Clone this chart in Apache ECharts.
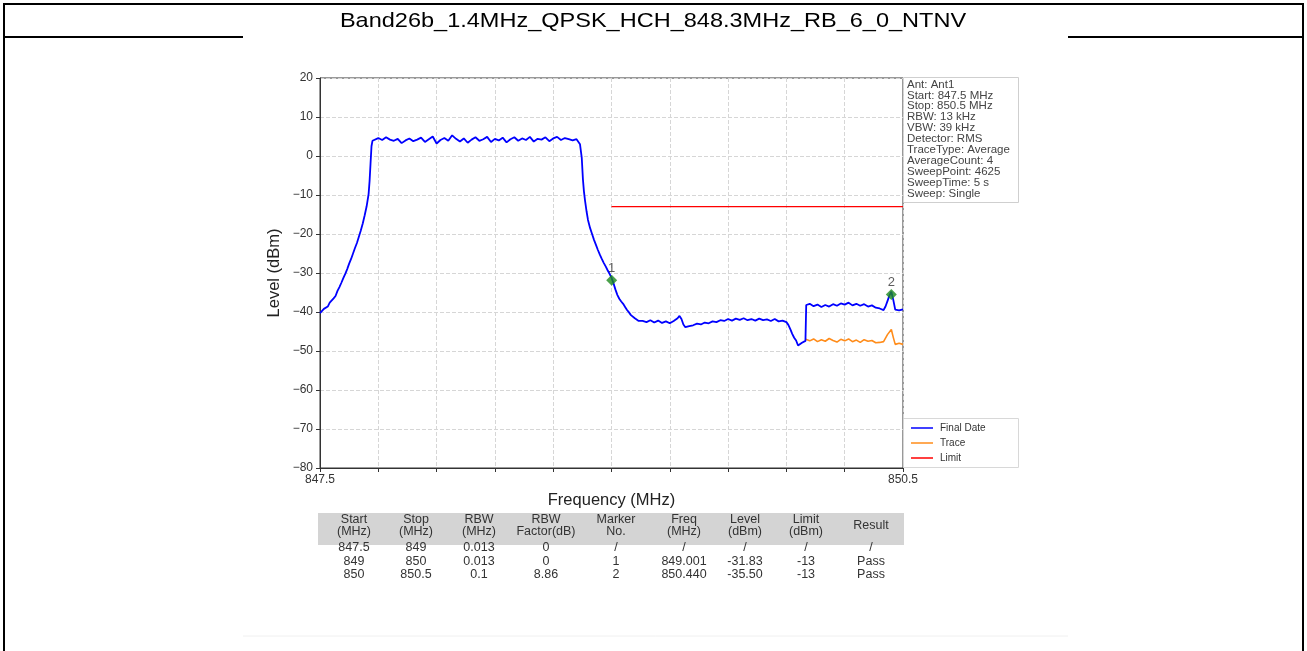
<!DOCTYPE html>
<html>
<head>
<meta charset="utf-8">
<title>Band26b spectrum</title>
<script src="https://cdn.jsdelivr.net/npm/echarts@6/dist/echarts.min.js"></script>
<style>
  body { margin: 0; background: #fff; }
  #main { width: 1307px; height: 651px; }
</style>
</head>
<body>
<div id="main"></div>
<script>
var chartTitle = 'Band26b_1.4MHz_QPSK_HCH_848.3MHz_RB_6_0_NTNV';

// Final Date trace [MHz, dBm]
var finalDate = [
  [847.5,-40.3],[847.51,-39.8],[847.52,-39.2],[847.53,-38.9],[847.54,-38.6],[847.55,-37.6],
  [847.56,-37.3],[847.57,-36.5],[847.58,-35.9],[847.59,-34.6],[847.60,-33.6],[847.61,-32.5],
  [847.62,-31.3],[847.63,-30.2],[847.64,-29.0],[847.65,-27.6],[847.66,-26.4],[847.67,-25.0],
  [847.68,-23.6],[847.69,-22.3],[847.70,-20.7],[847.71,-19.1],[847.72,-17.3],[847.73,-15.2],
  [847.74,-12.9],[847.75,-9.8],[847.755,-6.5],[847.76,-2.0],[847.765,2.5],[847.77,3.9],
  [847.78,4.3],[847.80,4.6],[847.82,4.1],[847.84,4.8],[847.86,4.2],[847.88,3.9],[847.90,4.4],
  [847.92,3.3],[847.94,4.0],[847.96,4.5],[847.98,3.8],[848.00,4.2],[848.02,4.7],[848.04,3.6],
  [848.06,4.3],[848.08,5.0],[848.10,3.2],[848.12,4.1],[848.14,4.6],[848.16,3.9],[848.18,5.3],
  [848.20,4.4],[848.22,3.7],[848.24,4.5],[848.26,3.4],[848.28,4.2],[848.30,4.8],[848.32,3.9],
  [848.34,4.3],[848.36,4.9],[848.38,3.6],[848.40,4.4],[848.42,4.0],[848.44,4.7],[848.46,3.5],
  [848.48,4.3],[848.50,4.8],[848.52,3.9],[848.54,4.5],[848.56,4.1],[848.58,4.9],[848.60,3.7],
  [848.62,4.4],[848.64,4.2],[848.66,4.8],[848.68,3.8],[848.70,4.5],[848.72,4.9],[848.74,4.1],
  [848.76,4.6],[848.78,4.3],[848.80,4.0],[848.82,4.3],[848.83,3.6],[848.838,3.0],[848.847,-0.5],
  [848.853,-6.0],[848.858,-9.0],[848.864,-11.5],[848.872,-14.3],[848.879,-16.4],[848.89,-18.5],
  [848.90,-20.0],[848.91,-21.5],[848.92,-22.8],[848.93,-24.1],[848.94,-25.3],[848.95,-26.4],
  [848.96,-27.4],[848.97,-28.3],[848.98,-29.3],[848.99,-30.2],[849.00,-31.2],[849.01,-32.6],
  [849.02,-34.2],[849.03,-35.6],[849.04,-36.6],[849.05,-37.3],[849.06,-37.9],[849.07,-38.7],
  [849.08,-39.5],[849.09,-40.1],[849.10,-40.8],[849.11,-41.2],[849.12,-41.6],[849.13,-41.9],
  [849.14,-42.3],[849.15,-42.0],[849.16,-42.3],[849.18,-42.6],[849.20,-42.1],[849.22,-42.7],
  [849.24,-42.2],[849.26,-42.8],[849.28,-42.4],[849.30,-42.9],[849.32,-42.3],[849.34,-41.6],
  [849.35,-41.0],[849.36,-41.8],[849.37,-43.2],[849.38,-43.9],[849.39,-44.1],[849.40,-43.6],
  [849.42,-43.4],[849.44,-43.0],[849.46,-43.2],[849.48,-42.7],[849.50,-42.9],[849.52,-42.4],
  [849.54,-42.6],[849.56,-42.1],[849.58,-42.3],[849.60,-41.8],[849.62,-42.2],[849.64,-41.7],
  [849.66,-42.0],[849.68,-41.6],[849.70,-42.1],[849.72,-41.8],[849.74,-42.2],[849.76,-41.7],
  [849.78,-42.1],[849.80,-41.9],[849.82,-42.3],[849.84,-41.8],[849.86,-42.4],[849.88,-42.2],
  [849.90,-42.6],[849.91,-43.3],[849.92,-44.4],[849.93,-45.6],[849.94,-46.6],[849.95,-47.3],
  [849.96,-48.6],[849.97,-48.4],[849.98,-47.9],[849.99,-47.7],[849.998,-47.4],[850.002,-38.2],
  [850.02,-37.9],[850.04,-38.5],[850.06,-38.1],[850.08,-38.7],[850.10,-38.2],[850.12,-38.6],
  [850.14,-38.0],[850.16,-38.4],[850.18,-37.8],[850.20,-38.1],[850.22,-37.6],[850.24,-38.3],
  [850.26,-37.9],[850.28,-38.4],[850.30,-38.0],[850.32,-38.6],[850.34,-38.3],[850.36,-38.9],
  [850.38,-39.1],[850.40,-39.5],[850.41,-38.6],[850.42,-37.2],[850.43,-35.8],[850.44,-34.8],
  [850.45,-36.9],[850.46,-39.4],[850.47,-39.8],[850.48,-39.6],[850.49,-39.9],[850.5,-39.3]
];

// Trace (850 - 850.5 MHz)
var trace = [
  [850.0,-47.0],[850.02,-47.4],[850.04,-46.9],[850.06,-47.6],[850.08,-47.1],[850.10,-47.5],
  [850.12,-46.8],[850.14,-47.3],[850.16,-47.7],[850.18,-47.0],[850.20,-47.4],[850.22,-46.9],
  [850.24,-47.6],[850.26,-47.2],[850.28,-47.8],[850.30,-47.1],[850.32,-47.5],[850.34,-47.3],
  [850.36,-47.9],[850.38,-47.8],[850.40,-47.6],[850.42,-45.8],[850.44,-44.5],[850.45,-46.5],
  [850.46,-48.3],[850.48,-48.0],[850.5,-48.3]
];

var limitLine = [[849.0,-13],[850.5,-13]];

var markerNo = ['1','2'];
var markerFreq = [849.001, 850.440];
var markerLevel = [-31.83, -35.50];

var yTicks = { min: -80, max: 20, step: 10 };
var xTicks = { min: 847.5, max: 850.5, step: 0.3 };

var infoLines = ['Ant: Ant1','Start: 847.5 MHz','Stop: 850.5 MHz','RBW: 13 kHz','VBW: 39 kHz',
  'Detector: RMS','TraceType: Average','AverageCount: 4','SweepPoint: 4625','SweepTime: 5 s','Sweep: Single'];

var legendNames = ['Final Date','Trace','Limit'];
var legendColors = ['#0000ff','#ff8c1a','#ff0000'];

var tableHead = [['Start','(MHz)'],['Stop','(MHz)'],['RBW','(MHz)'],['RBW','Factor(dB)'],
  ['Marker','No.'],['Freq','(MHz)'],['Level','(dBm)'],['Limit','(dBm)'],['Result']];
var tableRows = [
  ['847.5','849','0.013','0','/','/','/','/','/'],
  ['849','850','0.013','0','1','849.001','-31.83','-13','Pass'],
  ['850','850.5','0.1','8.86','2','850.440','-35.50','-13','Pass']
];

var chart = echarts.init(document.getElementById('main'), null, { renderer: 'canvas' });

var font = 'Liberation Sans, Arial, sans-serif';
var narrow = 'Liberation Sans Narrow, Liberation Sans, Arial, sans-serif';
var gridL = 320, gridT = 78, gridW = 583, gridH = 390;

var g = [];
// outer frame of the document cell
g.push({ type: 'rect', shape: { x: 4, y: 4, width: 1299, height: 660 }, style: { fill: 'none', stroke: '#000', lineWidth: 2 }, silent: true });
g.push({ type: 'line', shape: { x1: 4, y1: 37, x2: 243, y2: 37 }, style: { stroke: '#000', lineWidth: 2 } });
g.push({ type: 'line', shape: { x1: 1068, y1: 37, x2: 1303, y2: 37 }, style: { stroke: '#000', lineWidth: 2 } });
g.push({ type: 'text', x: 653, y: 21, scaleX: 1.12, style: { text: chartTitle, font: '21px ' + font, fill: '#000', textAlign: 'center', textVerticalAlign: 'middle' } });

// info box
g.push({ type: 'rect', shape: { x: 903.5, y: 77.5, width: 115, height: 125 }, style: { fill: '#fff', stroke: '#cfcfcf', lineWidth: 1 } });
g.push({ type: 'text', x: 907, y: 79, style: { text: infoLines.join('\n'), font: '11.5px ' + font, lineHeight: 10.9, fill: '#444', textVerticalAlign: 'top' } });

// legend box
g.push({ type: 'rect', shape: { x: 903.5, y: 418.5, width: 115, height: 49 }, style: { fill: '#fff', stroke: '#d8d8d8', lineWidth: 1 } });
legendNames.forEach(function (n, i) {
  var y = 428 + i * 15;
  g.push({ type: 'line', shape: { x1: 911, y1: y, x2: 933, y2: y }, style: { stroke: legendColors[i], lineWidth: 1.5 } });
  g.push({ type: 'text', x: 940, y: y, style: { text: n, font: '10px ' + font, fill: '#333', textVerticalAlign: 'middle' } });
});

// table
var colX = [354, 416, 479, 546, 616, 684, 745, 806, 871];
g.push({ type: 'rect', shape: { x: 318, y: 513, width: 586, height: 32 }, style: { fill: '#d4d4d4' } });
tableHead.forEach(function (h, i) {
  var y = h.length > 1 ? 514 : 520;
  g.push({ type: 'text', x: colX[i], y: y, style: { text: h.join('\n'), font: '12.5px ' + narrow, lineHeight: 12, fill: '#333', textAlign: 'center', textVerticalAlign: 'top' } });
});
tableRows.forEach(function (r, j) {
  r.forEach(function (c, i) {
    g.push({ type: 'text', x: colX[i], y: 548 + j * 13.5, style: { text: c, font: '12.5px ' + narrow, fill: '#333', textAlign: 'center', textVerticalAlign: 'middle' } });
  });
});
g.push({ type: 'line', shape: { x1: 243, y1: 636, x2: 1068, y2: 636 }, style: { stroke: '#f0f0f0', lineWidth: 1 } });

function xLabel(v) {
  if (Math.abs(v - xTicks.min) < 1e-6) return '847.5';
  if (Math.abs(v - xTicks.max) < 1e-6) return '850.5';
  return '';
}
function yLabel(v) {
  return v < 0 ? '\u2212' + Math.abs(v) : String(v);
}

var option = {
  backgroundColor: '#fff',
  animation: false,
  grid: { left: gridL, top: gridT, width: gridW, height: gridH, show: true, borderColor: '#333', borderWidth: 1, backgroundColor: 'transparent' },
  xAxis: {
    type: 'value', min: xTicks.min, max: xTicks.max, interval: xTicks.step,
    name: 'Frequency (MHz)', nameLocation: 'middle', nameGap: 24,
    nameTextStyle: { fontSize: 16.5, color: '#222', fontFamily: font },
    axisLine: { show: true, onZero: false, lineStyle: { color: '#333' } },
    axisTick: { show: true, length: 4, lineStyle: { color: '#333' } },
    axisLabel: { formatter: xLabel, showMinLabel: true, showMaxLabel: true, fontSize: 12, color: '#333', fontFamily: font, margin: 6 },
    splitLine: { show: true, lineStyle: { color: '#d6d6d6', type: [4, 2] } }
  },
  yAxis: {
    type: 'value', min: yTicks.min, max: yTicks.max, interval: yTicks.step,
    name: 'Level (dBm)', nameLocation: 'middle', nameGap: 37,
    nameTextStyle: { fontSize: 16.5, color: '#222', fontFamily: font },
    axisLine: { show: true, onZero: false, lineStyle: { color: '#333' } },
    axisTick: { show: true, length: 4, lineStyle: { color: '#333' } },
    axisLabel: { formatter: yLabel, fontSize: 12, color: '#333', fontFamily: font, margin: 7 },
    splitLine: { show: true, lineStyle: { color: '#d6d6d6', type: [4, 2] } }
  },
  series: [
    { name: 'Final Date', type: 'line', data: finalDate, showSymbol: false, lineStyle: { color: legendColors[0], width: 1.8 }, z: 3 },
    { name: 'Trace', type: 'line', data: trace, showSymbol: false, lineStyle: { color: legendColors[1], width: 1.6 }, z: 2 },
    { name: 'Limit', type: 'line', data: limitLine, showSymbol: false, lineStyle: { color: legendColors[2], width: 1.2 }, z: 2 },
    {
      name: 'Marker', type: 'scatter', symbol: 'diamond', symbolSize: 11, z: 5,
      itemStyle: { color: '#1e8a1e' },
      label: { show: true, position: 'top', distance: 0, fontSize: 13, color: '#333', fontFamily: font, formatter: function (p) { return markerNo[p.dataIndex]; } },
      data: markerFreq.map(function (f, i) { return [f, markerLevel[i]]; })
    }
  ],
  graphic: g
};

chart.setOption(option);
</script>
</body>
</html>
